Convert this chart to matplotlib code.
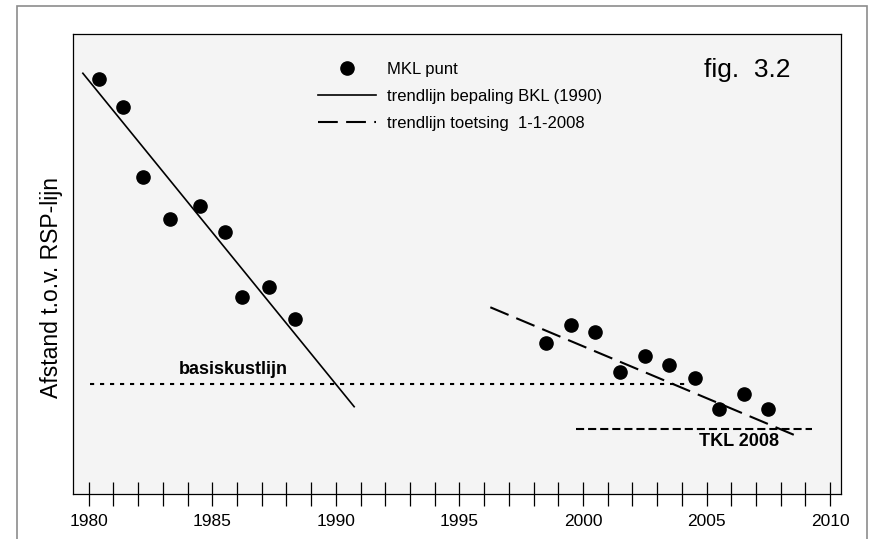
import matplotlib
matplotlib.use('Agg')
import matplotlib.pyplot as plt
from matplotlib.patches import Rectangle
from matplotlib.ticker import MultipleLocator

# MKL punten (jaar, afstand t.o.v. RSP-lijn, willekeurige eenheid)
mkl_years_1 = [1980.4, 1981.4, 1982.2, 1983.3, 1984.5, 1985.5, 1986.2, 1987.3, 1988.35]
mkl_values_1 = [415, 387, 317, 275, 288, 262, 197, 207, 175]
mkl_years_2 = [1998.5, 1999.5, 2000.5, 2001.5, 2002.5, 2003.5, 2004.55, 2005.5, 2006.5, 2007.5]
mkl_values_2 = [151, 169, 162, 122, 138, 129, 116, 85, 100, 85]

# trendlijnen
bkl_trend_years = [1979.76, 1990.74]
bkl_trend_values = [420.7, 87.3]
toets_trend_years = [1996.25, 2008.55]
toets_trend_values = [186.7, 59.0]

# basiskustlijn en TKL 2008
bkl_years = [1980.05, 2004.35]
bkl_value = 109.7
tkl_years = [1999.7, 2009.27]
tkl_value = 64.7

fig = plt.figure(figsize=(8.72, 5.39), dpi=100)
plt.rcParams['font.family'] = ['Liberation Sans', 'DejaVu Sans']

# grijze kader rond de figuur
fig.patches.append(Rectangle((0.0195, -0.02), 0.9748, 1.009, transform=fig.transFigure,
                             fill=False, edgecolor='#8c8c8c', lw=1.2))

ax = fig.add_axes([0.0834, 0.0835, 0.8807, 0.8535])
ax.set_facecolor('#f4f4f4')

ax.plot(mkl_years_1 + mkl_years_2, mkl_values_1 + mkl_values_2, 'o', color='black',
        markersize=9.5, label='MKL punt', zorder=5)
ax.plot(bkl_trend_years, bkl_trend_values, '-', color='black', lw=1.2,
        label='trendlijn bepaling BKL (1990)')
ax.plot(toets_trend_years, toets_trend_values, color='black', lw=1.5,
        dashes=(9.5, 4), label='trendlijn toetsing  1-1-2008')
ax.plot(bkl_years, [bkl_value] * 2, color='black', lw=1.5, dashes=(2, 2.8))
ax.plot(tkl_years, [tkl_value] * 2, color='black', lw=1.5, dashes=(3.9, 1.9))

ax.text(1985.83, 124.7, 'basiskustlijn', fontsize=13, fontweight='bold',
        ha='center', va='center')
ax.text(2006.32, 52.3, 'TKL 2008', fontsize=13, fontweight='bold',
        ha='center', va='center')
ax.text(0.822, 0.922, 'fig.  3.2', fontsize=19, transform=ax.transAxes,
        ha='left', va='center')

ax.legend(loc='upper left', bbox_to_anchor=(0.3194, 0.94), frameon=False,
          fontsize=12, handlelength=3.5, handletextpad=0.66, labelspacing=0.72,
          borderpad=0, borderaxespad=0, numpoints=1)

ax.set_xlim(1979.35, 2010.43)
ax.set_ylim(0, 460)
ax.xaxis.set_major_locator(MultipleLocator(5))
ax.xaxis.set_minor_locator(MultipleLocator(1))
ax.tick_params(axis='x', which='both', direction='inout', length=17, width=0.9,
               labelsize=12.5, pad=6)
ax.set_yticks([])
ax.set_ylabel('Afstand t.o.v. RSP-lijn', fontsize=16.5)
ax.yaxis.set_label_coords(-0.013, 0.448)
for s in ax.spines.values():
    s.set_linewidth(0.9)

fig.savefig('out.png', dpi=100)
